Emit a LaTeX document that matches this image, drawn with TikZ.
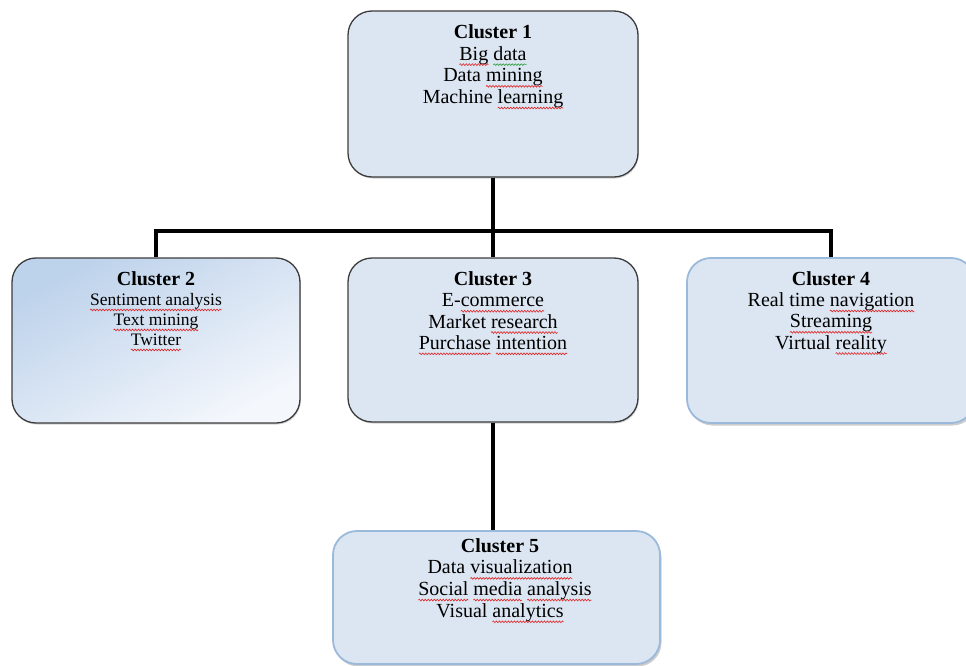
\documentclass[tikz,border=0pt]{standalone}
\usepackage{fontspec}
\setmainfont{Liberation Serif}
\usetikzlibrary{shadows,decorations.pathmorphing}
\definecolor{boxfill}{HTML}{DCE6F2}
\definecolor{boxline}{HTML}{3C3C3C}
\definecolor{softline}{HTML}{9BB9DB}
\definecolor{gradA}{HTML}{BDD2EB}
\definecolor{gradB}{HTML}{F4F7FC}
\definecolor{wavered}{HTML}{E02020}
\definecolor{wavegreen}{HTML}{2E9E3E}
\newlength\wavywd
\newcommand\wavyline[2]{\settowidth\wavywd{#2}\rlap{#2}\smash{\tikz[baseline=0pt]{\useasboundingbox (0pt,0pt) rectangle (\wavywd,0pt);
  \draw[#1, line width=0.6pt, decorate, decoration={snake, segment length=3pt, amplitude=0.9pt}] (0pt,-4.5pt) -- (\wavywd,-4.5pt);}}}
\newcommand\sqw[1]{\wavyline{wavered}{#1}}
\newcommand\sqg[1]{\wavyline{wavegreen}{#1}}
\begin{document}
\begin{tikzpicture}[x=1pt,y=-1pt,
  cbox/.style={draw=boxline, line width=1.3pt, fill=boxfill, rounded corners=24pt,
    drop shadow={shadow xshift=0.8pt, shadow yshift=-1.5pt, opacity=0.35}},
  softbox/.style={draw=softline, line width=1.8pt, fill=boxfill, rounded corners=24pt,
    drop shadow={shadow xshift=1.5pt, shadow yshift=-2.5pt, opacity=0.4}},
  txt/.style={anchor=north, align=center, inner sep=0pt, font=\fontsize{20}{21.7}\selectfont},
  conn/.style={line width=4pt, draw=black, line join=miter}]
\useasboundingbox (0,0) rectangle (966,666);
\fill[white] (0,0) rectangle (966,666);

% boxes
\node[cbox, minimum width=290pt, minimum height=166pt] (c1) at (493,94) {};
\node[draw=boxline, line width=1.3pt, rounded corners=24pt, top color=gradA, bottom color=gradB, shading angle=28,
  drop shadow={shadow xshift=0.8pt, shadow yshift=-1.5pt, opacity=0.35},
  minimum width=288pt, minimum height=165pt] (c2) at (156,340.5) {};
\node[cbox, minimum width=290pt, minimum height=164pt] (c3) at (493,340) {};
\node[softbox, minimum width=288pt, minimum height=165pt] (c4) at (831,340.5) {};
\node[softbox, minimum width=327pt, minimum height=133pt] (c5) at (496.5,597.5) {};

% connectors
\coordinate (j) at (493,231);
\draw[conn] (c1.south) -- (c3.north);
\draw[conn] (c2.north) -- (c2.north |- j) -- (c4.north |- j) -- (c4.north);
\draw[conn] (c3.south) -- (c3.south |- c5.north);

% texts
\node[txt] (t1) at ([yshift=-14pt]c1.north)
  {\textbf{Cluster 1}\\ \sqw{Big} \sqg{data}\\ Data \sqw{mining}\\ Machine \sqw{learning}};
\node[txt, font=\fontsize{17.5}{20}\selectfont] (t2) at ([yshift=-14pt]c2.north)
  {{\fontsize{20}{21}\selectfont\textbf{Cluster 2}}\\ \sqw{Sentiment analysis}\\ \sqw{Text mining}\\ \sqw{Twitter}};
\node[txt, font=\fontsize{20}{21.3}\selectfont] (t3) at ([yshift=-14pt]c3.north)
  {\textbf{Cluster 3}\\ E-\sqw{commerce}\\ Market \sqw{research}\\ \sqw{Purchase} \sqw{intention}};
\node[txt, font=\fontsize{20}{21.3}\selectfont] (t4) at ([yshift=-14pt]c4.north)
  {\textbf{Cluster 4}\\ Real time \sqw{navigation}\\ \sqw{Streaming}\\ Virtual \sqw{reality}};
\node[txt] (t5) at ([xshift=3.5pt,yshift=-8pt]c5.north)
  {\textbf{Cluster 5}\\ Data \sqw{visualization}\\ \hspace*{10pt}\sqw{Social} \sqw{media} \sqw{analysis}\\ Visual \sqw{analytics}};
\end{tikzpicture}
\end{document}
